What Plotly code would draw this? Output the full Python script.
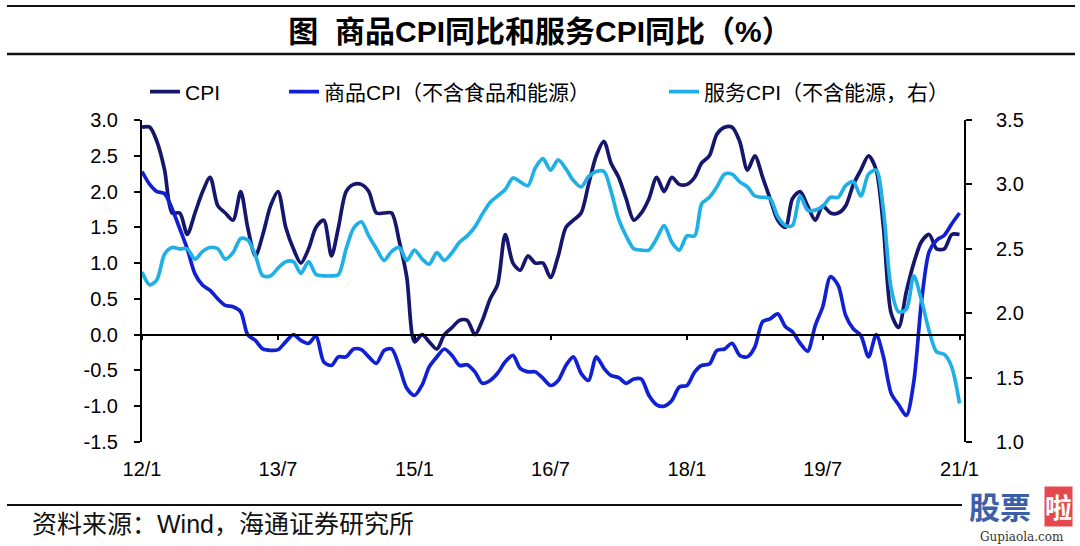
import plotly.graph_objects as go
import pandas as pd

# ---------------- data ----------------
months = pd.date_range("2012-01-01", "2021-01-01", freq="MS")

cpi = [
    2.9, 2.9, 2.7, 2.3, 1.7, 1.7, 1.4, 1.7, 2.0, 2.2, 1.8, 1.7,
    1.6, 2.0, 1.5, 1.1, 1.4, 1.8, 2.0, 1.5, 1.2, 1.0, 1.2, 1.5,
    1.6, 1.1, 1.5, 2.0, 2.1, 2.1, 2.0, 1.7, 1.7, 1.7, 1.3, 0.8,
    -0.1, 0.0, -0.1, -0.2, 0.0, 0.1, 0.2, 0.2, 0.0, 0.2, 0.5, 0.7,
    1.4, 1.0, 0.9, 1.1, 1.0, 1.0, 0.8, 1.1, 1.5, 1.6, 1.7, 2.1,
    2.5, 2.7, 2.4, 2.2, 1.9, 1.6, 1.7, 1.9, 2.2, 2.0, 2.2, 2.1,
    2.1, 2.2, 2.4, 2.5, 2.8, 2.9, 2.9, 2.7, 2.3, 2.5, 2.2, 1.9,
    1.6, 1.5, 1.9, 2.0, 1.8, 1.6, 1.8, 1.7, 1.7, 1.8, 2.1, 2.3,
    2.5, 2.3, 1.5, 0.3, 0.1, 0.6, 1.0, 1.3, 1.4, 1.2, 1.2, 1.4,
    1.4,
]

core_goods = [
    2.28, 2.10, 2.00, 1.97, 1.76, 1.48, 1.20, 0.85, 0.69, 0.62, 0.50, 0.41,
    0.39, 0.32, 0.00, -0.08, -0.20, -0.22, -0.21, -0.10, 0.00, -0.08, -0.12, -0.02,
    -0.38, -0.43, -0.31, -0.31, -0.20, -0.21, -0.31, -0.40, -0.22, -0.20, -0.45, -0.75,
    -0.85, -0.70, -0.45, -0.31, -0.20, -0.29, -0.43, -0.42, -0.52, -0.68, -0.64, -0.54,
    -0.38, -0.29, -0.47, -0.52, -0.52, -0.61, -0.71, -0.64, -0.43, -0.31, -0.54, -0.64,
    -0.31, -0.47, -0.57, -0.60, -0.68, -0.62, -0.62, -0.85, -0.98, -1.00, -0.92, -0.73,
    -0.71, -0.52, -0.43, -0.41, -0.22, -0.20, -0.12, -0.29, -0.31, -0.17, 0.18, 0.22,
    0.29, 0.11, 0.04, -0.12, -0.23, 0.13, 0.39, 0.81, 0.69, 0.27, 0.08, -0.01,
    -0.31, 0.00, -0.31, -0.82, -0.98, -1.13, -0.66, 0.46, 1.16, 1.32, 1.39, 1.55,
    1.70,
]

services = [
    2.32, 2.22, 2.26, 2.46, 2.51, 2.50, 2.50, 2.42, 2.48, 2.51, 2.50, 2.42,
    2.47, 2.58, 2.57, 2.45, 2.29, 2.29, 2.35, 2.40, 2.40, 2.31, 2.40, 2.30,
    2.29, 2.29, 2.30, 2.50, 2.66, 2.71, 2.60, 2.50, 2.41, 2.48, 2.51, 2.41,
    2.49, 2.42, 2.38, 2.47, 2.41, 2.47, 2.55, 2.60, 2.67, 2.77, 2.86, 2.91,
    2.96, 3.05, 3.02, 2.99, 3.13, 3.20, 3.11, 3.19, 3.12, 3.03, 2.98, 3.06,
    3.10, 3.10, 2.95, 2.73, 2.60, 2.50, 2.49, 2.49, 2.58, 2.68, 2.55, 2.49,
    2.60, 2.60, 2.85, 2.90, 2.98, 3.08, 3.08, 3.02, 2.98, 2.91, 2.90, 2.89,
    2.75, 2.68, 2.68, 2.91, 2.80, 2.80, 2.83, 2.90, 2.90, 2.99, 3.02, 2.91,
    3.08, 3.11, 2.80, 2.19, 2.01, 2.03, 2.29, 2.10, 1.86, 1.70, 1.68, 1.58,
    1.30,
]

series_names = ["CPI", "商品CPI（不含食品和能源）", "服务CPI（不含能源，右）"]

x_tick_vals = ["2012-01-01", "2013-07-01", "2015-01-01", "2016-07-01",
               "2018-01-01", "2019-07-01", "2021-01-01"]
x_tick_text = ["12/1", "13/7", "15/1", "16/7", "18/1", "19/7", "21/1"]

left_tick_vals = [-1.5, -1.0, -0.5, 0.0, 0.5, 1.0, 1.5, 2.0, 2.5, 3.0]
left_tick_text = ["-1.5", "-1.0", "-0.5", "0.0", "0.5", "1.0", "1.5", "2.0", "2.5", "3.0"]
right_tick_vals = [1.0, 1.5, 2.0, 2.5, 3.0, 3.5]
right_tick_text = ["1.0", "1.5", "2.0", "2.5", "3.0", "3.5"]

title_text = "图  商品CPI同比和服务CPI同比（%）"
source_text = "资料来源：Wind，海通证券研究所"

# ---------------- styling ----------------
W, H = 1080, 546
PL, PR, PT, PB = 142, 964, 120, 442
FONT = "Liberation Sans, Arial, Noto Sans CJK SC, sans-serif"
C_CPI = "#16166c"
C_GOODS = "#1020d2"
C_SERV = "#20b0e6"
LW = 3.7


def px(x):
    return (x - PL) / (PR - PL)


def py(y):
    return (PB - y) / (PB - PT)


fig = go.Figure()
fig.add_trace(go.Scatter(x=months, y=cpi, name=series_names[0], mode="lines",
                         line=dict(color=C_CPI, width=LW, shape="spline", smoothing=0.8),
                         xaxis="x", yaxis="y", legend="legend"))
fig.add_trace(go.Scatter(x=months, y=core_goods, name=series_names[1], mode="lines",
                         line=dict(color=C_GOODS, width=LW, shape="spline", smoothing=0.8),
                         xaxis="x", yaxis="y", legend="legend2"))
fig.add_trace(go.Scatter(x=months, y=services, name=series_names[2], mode="lines",
                         line=dict(color=C_SERV, width=LW, shape="spline", smoothing=0.8),
                         xaxis="x2", yaxis="y2", legend="legend3"))

x_range = ["2012-01-01", "2021-01-19"]
ylo, yhi = -1.5, 3.0


def leg(text_start):
    return dict(orientation="h", x=px(text_start - 41), xanchor="left",
                y=py(92), yanchor="middle",
                font=dict(family=FONT, size=21, color="#000000"),
                bgcolor="rgba(0,0,0,0)", borderwidth=0)


fig.update_layout(
    width=W, height=H,
    margin=dict(l=PL, r=W - PR, t=PT, b=H - PB, pad=0),
    paper_bgcolor="white", plot_bgcolor="white",
    font=dict(family=FONT, size=20, color="#000000"),
    showlegend=True,
    legend=leg(186), legend2=leg(325), legend3=leg(705),
    title=dict(text="<b>" + title_text + "</b>", x=0.5, xanchor="center",
               xref="container", yref="container", y=1 - 31 / H, yanchor="middle",
               font=dict(family="Liberation Sans, Noto Sans CJK SC, sans-serif", size=30, color="#000000")),
    # bottom axis: labels only
    xaxis=dict(type="date", range=x_range, anchor="y",
               showline=False, ticks="", tickvals=x_tick_vals, ticktext=x_tick_text,
               ticklabelstandoff=13, showgrid=False, zeroline=False,
               tickfont=dict(family=FONT, size=20, color="#000000")),
    # axis crossing at zero: line + tick marks
    xaxis2=dict(type="date", range=x_range, overlaying="x", anchor="free",
                position=(0 - ylo) / (yhi - ylo),
                showline=True, linecolor="#000000", linewidth=1.5,
                ticks="outside", ticklen=5, tickwidth=1.5, tickcolor="#000000",
                tickvals=x_tick_vals, showticklabels=False,
                showgrid=False, zeroline=False),
    yaxis=dict(range=[ylo, yhi], tickvals=left_tick_vals, ticktext=left_tick_text,
               showline=True, linecolor="#000000", linewidth=2,
               ticks="outside", ticklen=6, tickwidth=1.5, tickcolor="#000000",
               ticklabelstandoff=12, showgrid=False, zeroline=False,
               tickfont=dict(family=FONT, size=20, color="#000000")),
    yaxis2=dict(range=[1.0, 3.5], overlaying="y", side="right", anchor="x",
                tickvals=right_tick_vals, ticktext=right_tick_text,
                showline=True, linecolor="#000000", linewidth=2,
                ticks="outside", ticklen=6, tickwidth=1.5, tickcolor="#000000",
                ticklabelstandoff=20, showgrid=False, zeroline=False,
                tickfont=dict(family=FONT, size=20, color="#000000")),
)

# horizontal rules (header and footer)
for yy, lw, x1 in [(6, 2, 1075), (54, 2.5, 1075), (505, 2, 962)]:
    fig.add_shape(type="line", xref="paper", yref="paper",
                  x0=px(7), x1=px(x1), y0=py(yy), y1=py(yy),
                  line=dict(color="#111111", width=lw))

# source note
fig.add_annotation(text=source_text, xref="paper", yref="paper",
                   x=px(30), y=py(524), xanchor="left", yanchor="middle",
                   showarrow=False,
                   font=dict(family="Liberation Sans, Noto Sans CJK SC, sans-serif", size=25, color="#111111"))

# watermark
fig.add_annotation(text="<b>股票</b>", xref="paper", yref="paper",
                   x=px(1000), y=py(505), xanchor="center", yanchor="middle",
                   showarrow=False,
                   font=dict(family="Noto Sans CJK SC", size=31, color="#3d5fa8"))
fig.add_annotation(text="<b>啦</b>", xref="paper", yref="paper",
                   x=px(1058), y=py(506), xanchor="center", yanchor="middle",
                   showarrow=False, bgcolor="#e5484d", borderpad=0,
                   font=dict(family="Noto Sans CJK SC", size=27, color="#ffffff"))
fig.add_annotation(text="Gupiaola.com", xref="paper", yref="paper",
                   x=px(1022), y=py(537), xanchor="center", yanchor="middle",
                   showarrow=False,
                   font=dict(family="DejaVu Serif, serif", size=12, color="#333333"))

fig.write_html("out.html", config={"displayModeBar": False},
               post_script="document.body.style.margin='0';document.body.style.padding='0';")
